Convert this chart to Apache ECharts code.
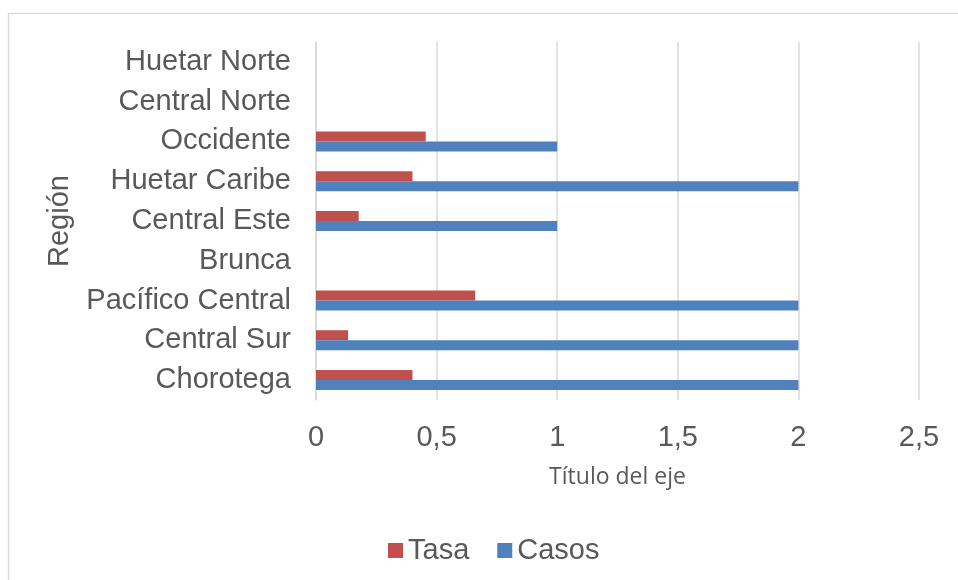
<!DOCTYPE html>
<html>
<head>
<meta charset="utf-8">
<script src="https://cdn.jsdelivr.net/npm/echarts@6/dist/echarts.min.js"></script>
<style>
  html, body { margin: 0; padding: 0; background: #fff; }
  #main { width: 958px; height: 580px; }
</style>
</head>
<body>
<div id="main"></div>
<script>
// regiones, de abajo hacia arriba
var regiones = ['Chorotega', 'Central Sur', 'Pacífico Central', 'Brunca', 'Central Este',
                'Huetar Caribe', 'Occidente', 'Central Norte', 'Huetar Norte'];
var casos = [2, 2, 2, null, 1, 2, 1, null, null];
var tasa = [0.40, 0.133, 0.66, null, 0.177, 0.40, 0.455, null, null];

var textColor = '#595959';
var gridColor = '#d9d9d9';
var labelFont = 'Liberation Sans';

var myChart = echarts.init(document.getElementById('main'));

var option = {
    backgroundColor: '#fff',
    animation: false,
    graphic: [{
        type: 'rect',
        shape: { x: 8.5, y: 13.5, width: 1000, height: 700 },
        style: { fill: 'none', stroke: gridColor, lineWidth: 1.5 }
    }],
    legend: {
        data: ['Tasa', 'Casos'],
        top: 531,
        left: 383,
        itemWidth: 15,
        itemHeight: 15,
        itemGap: 28,
        icon: 'rect',
        textStyle: { color: textColor, fontSize: 29, fontFamily: labelFont }
    },
    grid: { left: 316, right: 39, top: 42, bottom: 180, containLabel: false },
    xAxis: {
        type: 'value',
        min: 0,
        max: 2.5,
        interval: 0.5,
        name: 'Título del eje',
        nameLocation: 'middle',
        nameGap: 66,
        nameTextStyle: { color: textColor, fontSize: 23, fontFamily: 'Open Sans' },
        axisLine: { show: false },
        axisTick: { show: false },
        axisLabel: {
            color: textColor, fontSize: 29, fontFamily: labelFont, margin: 23,
            formatter: function (v) { return String(v).replace('.', ','); }
        },
        splitLine: { lineStyle: { color: gridColor, width: 1.5 } }
    },
    yAxis: {
        type: 'category',
        data: regiones,
        name: 'Región',
        nameLocation: 'middle',
        nameGap: 242,
        nameRotate: 90,
        nameTextStyle: { color: textColor, fontSize: 29, fontFamily: labelFont },
        axisLine: { show: true, lineStyle: { color: gridColor, width: 1.5 } },
        axisTick: { show: false },
        axisLabel: { color: textColor, fontSize: 29, fontFamily: labelFont, margin: 25 }
    },
    series: [
        {
            name: 'Tasa',
            type: 'bar',
            data: tasa,
            barWidth: 10,
            barGap: '0%',
            itemStyle: { color: '#C0504D' }
        },
        {
            name: 'Casos',
            type: 'bar',
            data: casos,
            barWidth: 10,
            barGap: '0%',
            itemStyle: { color: '#4F81BD' }
        }
    ]
};

myChart.setOption(option);
</script>
</body>
</html>
